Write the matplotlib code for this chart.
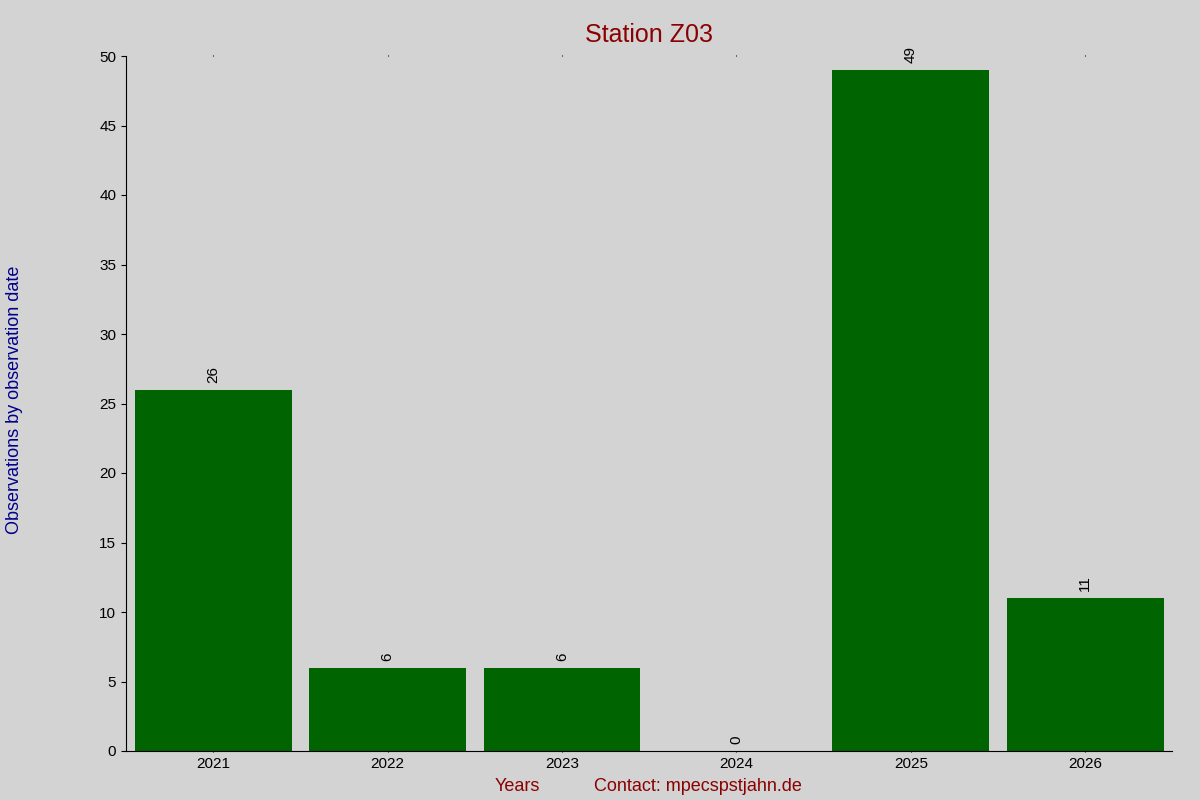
import matplotlib
matplotlib.use("Agg")
import matplotlib.pyplot as plt

years = ["2021", "2022", "2023", "2024", "2025", "2026"]
counts = [26, 6, 6, 0, 49, 11]

plt.rcParams['font.family'] = ['Liberation Sans', 'DejaVu Sans']
fig = plt.figure(figsize=(12, 8), dpi=100, facecolor='#d3d3d3')
ax = fig.add_axes([0.105, 0.06125, 0.872, 0.86875], facecolor='#d3d3d3')
x = list(range(len(years)))
ax.bar(x, counts, width=0.9, color='#006400')
for xi, c in zip(x, counts):
    ax.text(xi, c + 0.5, str(c), rotation=90, ha='center', va='bottom', fontsize=11)
ax.set_xlim(-0.5, len(years) - 0.5)
ax.set_ylim(0, 50)
ax.set_yticks(range(0, 51, 5))
ax.set_xticks(x)
ax.set_xticklabels(years)
ax.tick_params(axis='both', labelsize=11, direction='out')
ax.tick_params(axis='x', top=True, length=1)
for s in ['top', 'right']:
    ax.spines[s].set_visible(False)
ax.set_title("Station Z03", color='#8b0000', fontsize=18, pad=10)
fig.text(0.012, 0.5, "Observations by observation date", rotation=90,
         color='#00008b', fontsize=13, ha='center', va='center')
fig.text(0.431, 0.017, "Years", color='#8b0000', fontsize=13, ha='center', va='center')
fig.text(0.582, 0.017, "Contact: mpecspstjahn.de", color='#8b0000', fontsize=13, ha='center', va='center')
fig.savefig("out.png", dpi=100, facecolor=fig.get_facecolor())
